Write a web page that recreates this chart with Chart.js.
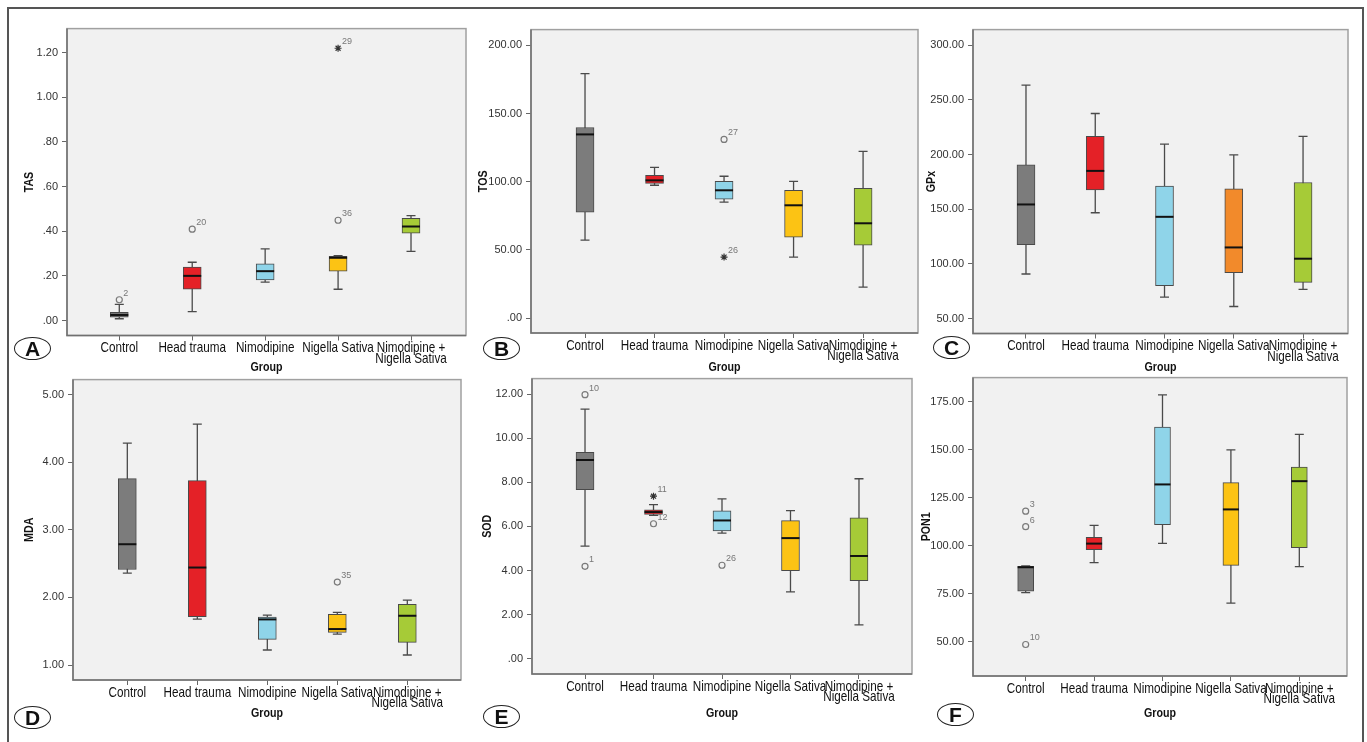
<!DOCTYPE html>
<html>
<head>
<meta charset="utf-8">
<script src="https://cdn.jsdelivr.net/npm/chart.js@4.4.1/dist/chart.umd.min.js"></script>
<style>
  html, body { margin: 0; padding: 0; background: #fff; }
  #page { position: relative; width: 1367px; height: 742px; overflow: hidden; background: #fff; }
  #frame { position: absolute; left: 7px; top: 7px; width: 1357px; height: 760px; border: 2px solid #555; box-sizing: border-box; }
  canvas { position: absolute; }
  .tag {
    position: absolute; width: 37px; height: 23px; margin: -12px 0 0 -19px;
    border: 1.5px solid #222; border-radius: 50%; box-sizing: border-box;
    font: bold 21px 'Liberation Sans', Arial, sans-serif; line-height: 21px; text-align: center; color: #111;
  }
</style>
</head>
<body>
<div id="page"><div id="frame"></div></div>
<script>
// groups on the x axis
const groups = ['Control', 'Head trauma', 'Nimodipine', 'Nigella Sativa', ['Nimodipine +', 'Nigella Sativa']];

// one row per group: [lower whisker, Q1, median, Q3, upper whisker]
const tasBox = [[0.008, 0.015, 0.025, 0.037, 0.072], [0.04, 0.14, 0.20, 0.239, 0.261], [0.172, 0.182, 0.221, 0.254, 0.321], [0.14, 0.221, 0.281, 0.287, 0.29], [0.31, 0.391, 0.421, 0.458, 0.47]];
const tosBox = [[57.1, 77.6, 134.7, 139.8, 179.3], [97.4, 98.8, 101, 104.7, 110.5], [85, 87.1, 93.7, 100.3, 104], [44.6, 59.3, 82.7, 93.7, 100.3], [22.7, 53.4, 69.5, 95.2, 122.2]];
const gpxBox = [[90.7, 117.5, 154.3, 190.6, 263.4], [146.7, 167.5, 185, 216.5, 237.5], [69.6, 80, 143, 171, 209.5], [61, 91.9, 115, 168.6, 199.7], [76.6, 83, 104.7, 174.4, 216.5]];
const mdaBox = [[2.36, 2.414, 2.788, 3.759, 4.286], [1.68, 1.714, 2.443, 3.729, 4.567], [1.222, 1.379, 1.675, 1.71, 1.739], [1.458, 1.483, 1.532, 1.749, 1.78], [1.148, 1.335, 1.729, 1.897, 1.961]];
const sodBox = [[5.11, 7.66, 9.01, 9.36, 11.32], [6.50, 6.54, 6.65, 6.75, 6.99], [5.70, 5.80, 6.27, 6.71, 7.25], [3.03, 3.99, 5.47, 6.26, 6.72], [1.54, 3.54, 4.66, 6.39, 8.16]];
const ponBox = [[75.6, 76.3, 88.8, 89.3, 89.5], [91.2, 98, 101.1, 104.4, 110.6], [101.2, 110.9, 131.9, 161.7, 178.5], [70.1, 89.8, 118.9, 132.8, 149.9], [89.1, 99.0, 133.6, 140.9, 157.9]];

// outliers: [group index, value, case label, 'o' circle / '*' extreme]
const tasOut = [[0, 0.093, '2', 'o'], [1, 0.409, '20', 'o'], [3, 0.449, '36', 'o'], [3, 1.219, '29', '*']];
const tosOut = [[2, 131, '27', 'o'], [2, 44.7, '26', '*']];
const gpxOut = [];
const mdaOut = [[3, 2.227, '35', 'o']];
const sodOut = [[0, 11.97, '10', 'o'], [0, 4.19, '1', 'o'], [1, 7.37, '11', '*'], [1, 6.12, '12', 'o'], [2, 4.24, '26', 'o']];
const ponOut = [[0, 118, '3', 'o'], [0, 109.9, '6', 'o'], [0, 48.6, '10', 'o']];

// y tick values
const tasTicks = [0, 0.2, 0.4, 0.6, 0.8, 1.0, 1.2];
const tosTicks = [0, 50, 100, 150, 200];
const gpxTicks = [50, 100, 150, 200, 250, 300];
const mdaTicks = [1, 2, 3, 4, 5];
const sodTicks = [0, 2, 4, 6, 8, 10, 12];
const ponTicks = [50, 75, 100, 125, 150, 175];

const boxColors = ['#7c7c7c', '#e42127', '#8fd4e9', '#fcc314', '#a6cb37'];
const gpxColors = ['#7c7c7c', '#e42127', '#8fd4e9', '#f28a2b', '#a6cb37'];

const PLAIN = "'Liberation Sans', Arial, sans-serif";

const panels = [
    { id: 'A', title: 'TAS',  box: tasBox, out: tasOut, ticks: tasTicks, colors: boxColors, yMin: -0.067, yMax: 1.307, xMin: 0.283, xMax: 5.754, L: 67,  R: 466,  T: 28,  B: 335, titleX: 29,  groupOff: 32.5, bar: 18, tag: [33, 349] },
    { id: 'B', title: 'TOS',  box: tosBox, out: tosOut, ticks: tosTicks, colors: boxColors, yMin: -11,    yMax: 211.6, xMin: 0.223, xMax: 5.79,  L: 531, R: 918,  T: 29,  B: 333, titleX: 483, groupOff: 34,   bar: 18, tag: [502, 349] },
    { id: 'C', title: 'GPx',  box: gpxBox, out: gpxOut, ticks: gpxTicks, colors: gpxColors, yMin: 36.3,   yMax: 314.2, xMin: 0.235, xMax: 5.649, L: 973, R: 1348, T: 29,  B: 333, titleX: 931, groupOff: 34.5, bar: 18, tag: [952, 348] },
    { id: 'D', title: 'MDA',  box: mdaBox, out: mdaOut, ticks: mdaTicks, colors: boxColors, yMin: 0.778,  yMax: 5.225, xMin: 0.224, xMax: 5.767, L: 73,  R: 461,  T: 379, B: 680, titleX: 29,  groupOff: 33,   bar: 18, tag: [33, 718] },
    { id: 'E', title: 'SOD',  box: sodBox, out: sodOut, ticks: sodTicks, colors: boxColors, yMin: -0.69,  yMax: 12.7,  xMin: 0.226, xMax: 5.774, L: 532, R: 912,  T: 378, B: 674, titleX: 487, groupOff: 39,   bar: 18, tag: [502, 717] },
    { id: 'F', title: 'PON1', box: ponBox, out: ponOut, ticks: ponTicks, colors: boxColors, yMin: 32.2,   yMax: 187.5, xMin: 0.23,  xMax: 5.697, L: 973, R: 1347, T: 377, B: 676, titleX: 926, groupOff: 37,   bar: 16, tag: [956, 715] }
];

function fmt(v) {
    return v.toFixed(2).replace(/^-?0\./, '.');
}

// condensed text: no narrow font installed, so squeeze Liberation Sans horizontally
function narrowText(ctx, text, x, y, font, squeeze) {
    ctx.save();
    ctx.translate(x, y);
    ctx.scale(squeeze, 1);
    ctx.font = font;
    ctx.fillText(text, 0, 0);
    ctx.restore();
}

function makeParts(p, cl) {
    return {
        id: 'parts' + p.id,
        beforeDraw(chart) {
            const { ctx, chartArea: a } = chart;
            ctx.save();
            ctx.fillStyle = '#f1f1f1';
            ctx.fillRect(a.left, a.top, a.right - a.left, a.bottom - a.top);
            ctx.restore();
        },
        beforeDatasetsDraw(chart) {
            const { ctx, scales: { x, y } } = chart;
            ctx.save();
            ctx.strokeStyle = '#4a4a4a';
            ctx.lineWidth = 1.3;
            p.box.forEach((b, i) => {
                const px = x.getPixelForValue(i + 1);
                ctx.beginPath();
                ctx.moveTo(px, y.getPixelForValue(b[0]));
                ctx.lineTo(px, y.getPixelForValue(b[4]));
                [b[0], b[4]].forEach(v => {
                    const py = y.getPixelForValue(v);
                    ctx.moveTo(px - 4.5, py);
                    ctx.lineTo(px + 4.5, py);
                });
                ctx.stroke();
            });
            ctx.restore();
        },
        afterDatasetsDraw(chart) {
            const { ctx, chartArea: a, scales: { x, y } } = chart;
            ctx.save();
            ctx.strokeStyle = '#111';
            ctx.lineWidth = 2;
            p.box.forEach((b, i) => {
                const px = x.getPixelForValue(i + 1);
                const py = y.getPixelForValue(b[2]);
                ctx.beginPath();
                ctx.moveTo(px - p.bar / 2, py);
                ctx.lineTo(px + p.bar / 2, py);
                ctx.stroke();
            });

            ctx.fillStyle = '#777';
            ctx.font = '9px ' + PLAIN;
            ctx.textBaseline = 'alphabetic';
            p.out.forEach(o => {
                ctx.fillText(o[2], x.getPixelForValue(o[0] + 1) + 4, y.getPixelForValue(o[1]) - 4);
            });

            // plot frame
            ctx.lineWidth = 1.5;
            ctx.strokeStyle = '#a0a0a0';
            ctx.strokeRect(a.left, a.top, a.right - a.left, a.bottom - a.top);
            ctx.strokeStyle = '#707070';
            ctx.beginPath();
            ctx.moveTo(a.left, a.top);
            ctx.lineTo(a.left, a.bottom);
            ctx.lineTo(a.right, a.bottom);
            ctx.stroke();
            ctx.restore();
        },
        afterDraw(chart) {
            const { ctx, chartArea: a, scales: { x } } = chart;
            ctx.save();
            ctx.fillStyle = '#111';
            ctx.textAlign = 'center';
            ctx.textBaseline = 'middle';
            x.ticks.forEach(t => {
                const lines = [].concat(t.label);
                const px = x.getPixelForValue(t.value);
                lines.forEach((s, k) => narrowText(ctx, s, px, a.bottom + 12.5 + k * 10.5, '15px ' + PLAIN, 0.78));
            });
            narrowText(ctx, 'Group', (a.left + a.right) / 2, p.B + p.groupOff - (p.T - 10), 'bold 13px ' + PLAIN, 0.82);

            ctx.translate(p.titleX - cl, (a.top + a.bottom) / 2);
            ctx.rotate(-Math.PI / 2);
            narrowText(ctx, p.title, 0, 0, 'bold 13px ' + PLAIN, 0.82);
            ctx.restore();
        }
    };
}

const page = document.getElementById('page');

panels.forEach(p => {
    const xh = p.groupOff + 8;
    const cl = Math.round(p.titleX - 8);
    const ct = p.T - 10;
    const yw = p.L - cl;

    const cv = document.createElement('canvas');
    cv.width = p.R + 8 - cl;
    cv.height = Math.round(p.B + xh - ct);
    cv.style.left = cl + 'px';
    cv.style.top = ct + 'px';
    page.appendChild(cv);

    const tag = document.createElement('div');
    tag.className = 'tag';
    tag.textContent = p.id;
    tag.style.left = p.tag[0] + 'px';
    tag.style.top = p.tag[1] + 'px';
    page.appendChild(tag);

    new Chart(cv, {
        type: 'bar',
        data: {
            datasets: [
                {
                    type: 'bar',
                    data: p.box.map((b, i) => ({ x: i + 1, y: [b[1], b[3]] })),
                    backgroundColor: p.colors,
                    borderColor: '#4a4a4a',
                    borderWidth: 1,
                    borderSkipped: false,
                    barThickness: p.bar
                },
                {
                    type: 'scatter',
                    data: p.out.filter(o => o[3] === 'o').map(o => ({ x: o[0] + 1, y: o[1] })),
                    pointStyle: 'circle',
                    radius: 3,
                    borderColor: '#7a7a7a',
                    backgroundColor: 'rgba(0,0,0,0)',
                    borderWidth: 1.2
                },
                {
                    type: 'scatter',
                    data: p.out.filter(o => o[3] === '*').map(o => ({ x: o[0] + 1, y: o[1] })),
                    pointStyle: 'star',
                    radius: 3.5,
                    borderColor: '#333',
                    backgroundColor: '#333',
                    borderWidth: 1.2
                }
            ]
        },
        options: {
            responsive: false,
            animation: false,
            events: [],
            devicePixelRatio: 1,
            layout: { padding: { left: 0, top: 10, right: 8, bottom: 0 } },
            plugins: { legend: { display: false }, tooltip: { enabled: false } },
            scales: {
                x: {
                    type: 'linear',
                    min: p.xMin,
                    max: p.xMax,
                    offset: false,
                    afterBuildTicks: s => { s.ticks = groups.map((g, i) => ({ value: i + 1 })); },
                    afterFit: s => { s.height = xh; },
                    ticks: { display: false, callback: v => groups[v - 1], autoSkip: false, maxRotation: 0 },
                    grid: { drawOnChartArea: false, offset: false, tickLength: 5, color: '#666' },
                    border: { display: false },
                    title: { display: false }
                },
                y: {
                    type: 'linear',
                    min: p.yMin,
                    max: p.yMax,
                    beginAtZero: false,
                    afterBuildTicks: s => { s.ticks = p.ticks.map(v => ({ value: v })); },
                    afterFit: s => { s.width = yw; },
                    ticks: { callback: v => fmt(v), font: { family: PLAIN, size: 11 }, color: '#333', padding: 4 },
                    grid: { drawOnChartArea: false, tickLength: 5, color: '#666' },
                    border: { display: false },
                    title: { display: false }
                }
            }
        },
        plugins: [makeParts(p, cl)]
    });
});
</script>
</body>
</html>
